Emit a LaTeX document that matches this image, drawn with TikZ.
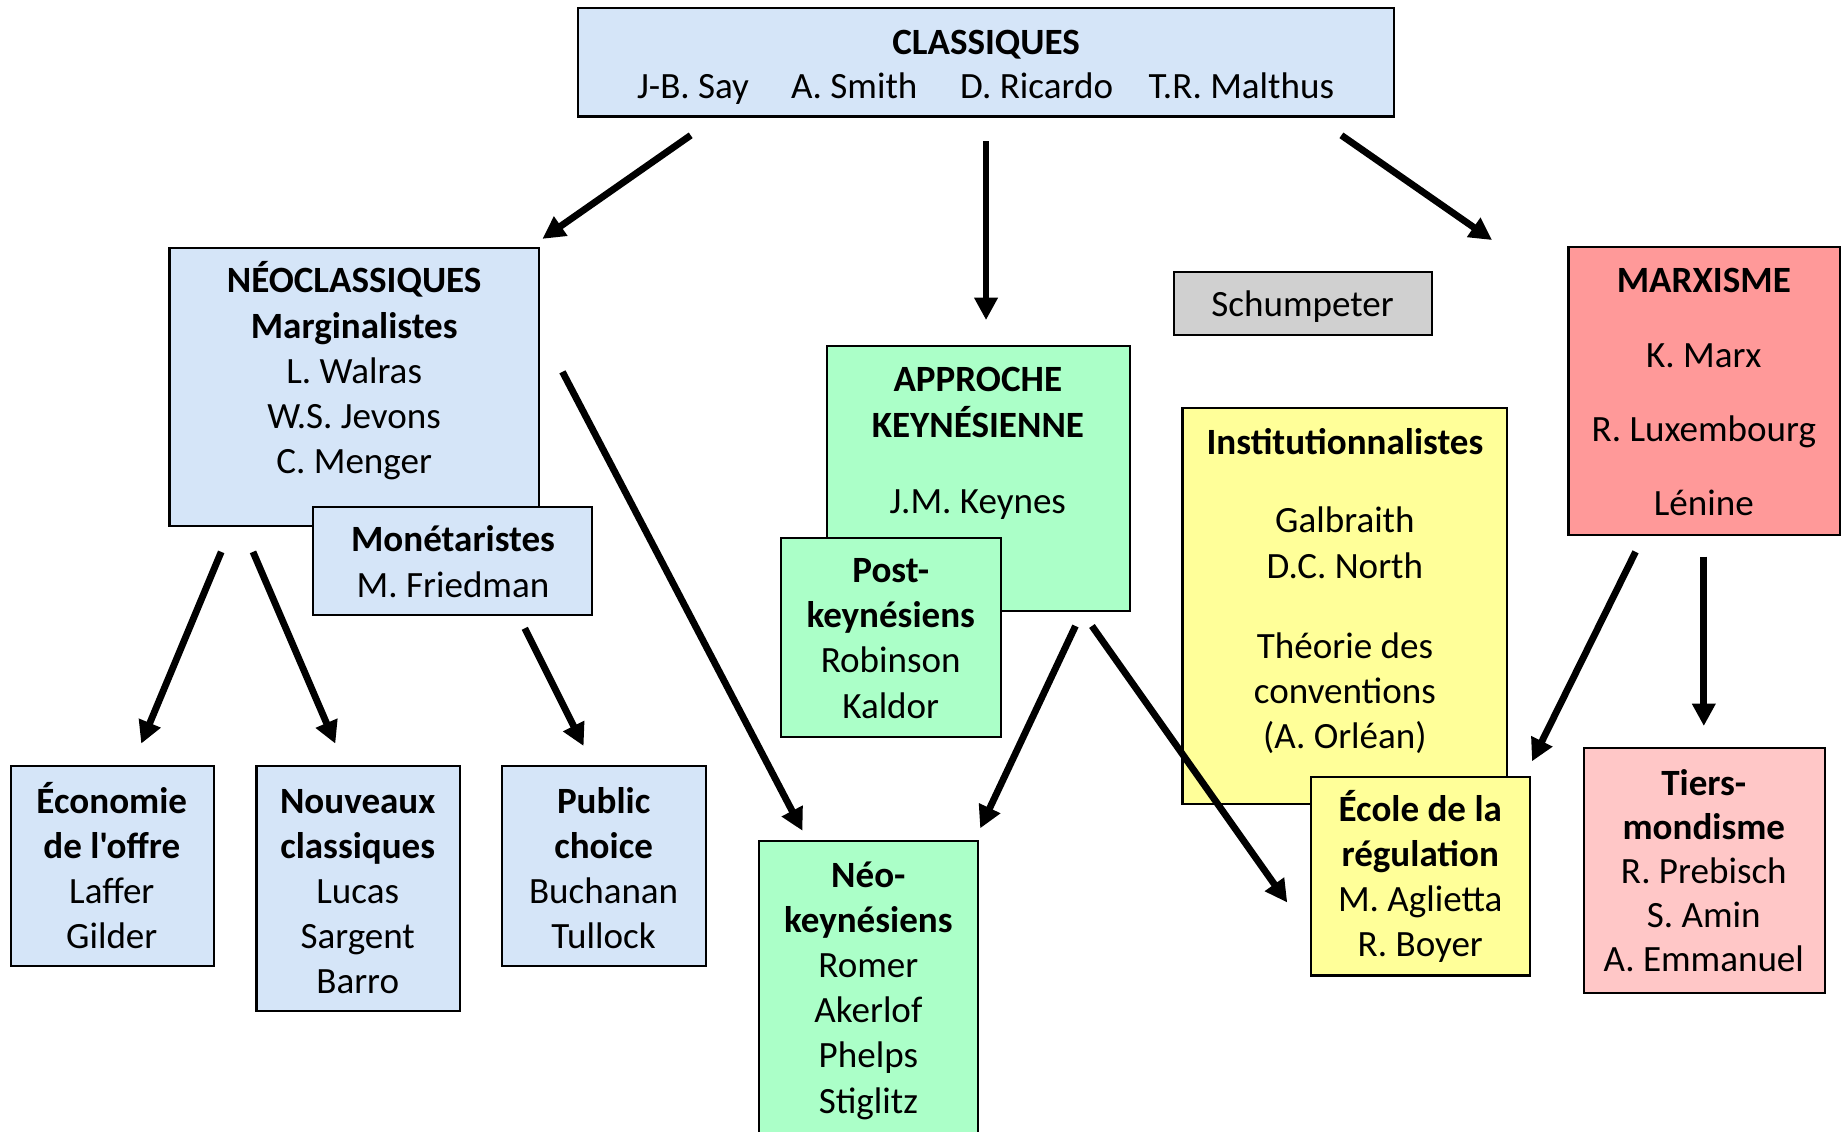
\documentclass[tikz,border=0pt]{standalone}
\usepackage{fontspec}
\setmainfont{Carlito}[Ligatures=TeXOff]
\usetikzlibrary{arrows.meta}

\definecolor{blueF}{RGB}{213,229,248}
\definecolor{greenF}{RGB}{171,255,200}
\definecolor{yellowF}{RGB}{255,255,153}
\definecolor{redF}{RGB}{255,153,153}
\definecolor{pinkF}{RGB}{255,199,199}
\definecolor{grayF}{RGB}{208,208,208}

\begin{document}
\begin{tikzpicture}[x=1pt,y=-1pt,
  box/.style={draw=black, line width=1.8pt, anchor=north west, inner sep=0pt, outer sep=0pt},
  lbl/.style={anchor=base, align=center, inner sep=0pt, font=\fontsize{31.5}{38.4}\selectfont},
  conn/.style={-{Triangle[length=19pt,width=19pt]}, line width=5.8pt}
]
\useasboundingbox (0,0) rectangle (1568,962);

% Labels are anchored on the baseline of their last line.

% --- top: classical school
\node[box, fill=blueF, minimum width=694pt, minimum height=92pt] (classiques) at (491,7) {};
\node[lbl] (tClass) at (838,46) {\textbf{CLASSIQUES}};
\node[lbl] (say) at (589,84) {J-B. Say};
\node[lbl] (smith) at (726,84) {A. Smith};
\node[lbl] (ricardo) at (881,84) {D. Ricardo};
\node[lbl] (malthus) at (1055,84) {T.R. Malthus};

% --- neoclassical branch
\node[box, fill=blueF, minimum width=314pt, minimum height=236pt] (neo) at (144,211) {};
\node[lbl] (tNeo) at (301,402.6) {\textbf{NÉOCLASSIQUES}\\\textbf{Marginalistes}\\L. Walras\\W.S. Jevons\\C. Menger};

\node[box, fill=blueF, minimum width=237pt, minimum height=92pt] (mone) at (266,431) {};
\node[lbl] (tMone) at (385,507.4) {\textbf{Monétaristes}\\M. Friedman};

\node[box, fill=blueF, minimum width=173pt, minimum height=170pt] (offre) at (9,651) {};
\node[lbl] (tOffre) at (95,806.2) {\textbf{Économie}\\\textbf{de l'offre}\\Laffer\\Gilder};

\node[box, fill=blueF, minimum width=173pt, minimum height=208pt] (nouv) at (218,651) {};
\node[lbl] (tNouv) at (304,844.6) {\textbf{Nouveaux}\\\textbf{classiques}\\Lucas\\Sargent\\Barro};

\node[box, fill=blueF, minimum width=173pt, minimum height=170pt] (pub) at (427,651) {};
\node[lbl] (tPub) at (513,806.2) {\textbf{Public}\\\textbf{choice}\\Buchanan\\Tullock};

% --- keynesian branch
\node[box, fill=greenF, minimum width=257pt, minimum height=225pt] (keyn) at (703,294) {};
\node[lbl] (tKeyn) at (831,436.8) {\textbf{APPROCHE}\\\textbf{KEYNÉSIENNE}\\[27pt]J.M. Keynes};

\node[box, fill=greenF, minimum width=187pt, minimum height=169pt] (post) at (664,457) {};
\node[lbl] (tPost) at (757,610.2) {\textbf{Post-}\\\textbf{keynésiens}\\Robinson\\Kaldor};

\node[box, fill=greenF, minimum width=186pt, minimum height=270pt] (neok) at (645,715) {};
\node[lbl] (tNeok) at (738,946) {\textbf{Néo-}\\\textbf{keynésiens}\\Romer\\Akerlof\\Phelps\\Stiglitz};

% --- heterodox schools
\node[box, fill=grayF, minimum width=219pt, minimum height=54pt] (schump) at (998,231) {};
\node[lbl] (tSchump) at (1107,269) {Schumpeter};

\node[box, fill=yellowF, minimum width=276pt, minimum height=336pt] (inst) at (1005,347) {};
\node[lbl] (tInst) at (1143,636) {\textbf{Institutionnalistes}\\[28.5pt]Galbraith\\D.C. North\\[29.5pt]Théorie des\\conventions\\(A. Orléan)};

\node[box, fill=yellowF, minimum width=186pt, minimum height=169pt] (regul) at (1114,660) {};
\node[lbl] (tRegul) at (1207,813.2) {\textbf{École de la}\\\textbf{régulation}\\M. Aglietta\\R. Boyer};

\node[box, fill=redF, minimum width=231pt, minimum height=245pt] (marx) at (1333,210) {};
\node[lbl] (tMarx) at (1448,437.7) {\textbf{MARXISME}\\[24.5pt]K. Marx\\[24.5pt]R. Luxembourg\\[24.5pt]Lénine};

\node[box, fill=pinkF, minimum width=205pt, minimum height=208pt] (tiers) at (1346,636) {};
\node[lbl, font=\fontsize{31.5}{37.5}\selectfont] (tTiers) at (1448,826) {\textbf{Tiers-}\\\textbf{mondisme}\\R. Prebisch\\S. Amin\\A. Emmanuel};

% --- arrow end points
\coordinate (c1) at (587,115);  \coordinate (n1) at (461,203);
\coordinate (c2) at (838,120);  \coordinate (k2) at (838,272);
\coordinate (c3) at (1140,115); \coordinate (m3) at (1268,204);
\coordinate (o4) at (188,469);  \coordinate (e4) at (120,632);
\coordinate (o5) at (215,469);  \coordinate (e5) at (285,632);
\coordinate (f6) at (446,534);  \coordinate (e6) at (496,634);
\coordinate (o7) at (478,316);  \coordinate (e7) at (682,706);
\coordinate (k8) at (914,532);  \coordinate (e8) at (833,704);
\coordinate (k9) at (928,532);  \coordinate (e9) at (1094,767);
\coordinate (m10) at (1390,469); \coordinate (e10) at (1302,647);
\coordinate (m11) at (1448,473); \coordinate (e11) at (1448,617);

% --- filiation arrows
\draw[conn] (c1) -- (n1);
\draw[conn] (c2) -- (k2);
\draw[conn] (c3) -- (m3);
\draw[conn] (o4) -- (e4);
\draw[conn] (o5) -- (e5);
\draw[conn] (f6) -- (e6);
\draw[conn] (o7) -- (e7);
\draw[conn] (k8) -- (e8);
\draw[conn] (k9) -- (e9);
\draw[conn] (m10) -- (e10);
\draw[conn] (m11) -- (e11);
\end{tikzpicture}
\end{document}
